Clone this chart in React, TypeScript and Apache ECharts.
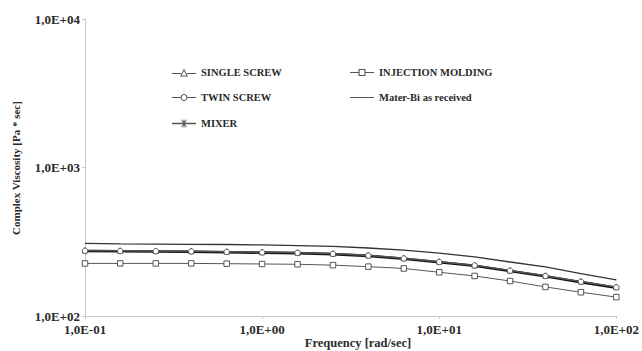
import React, { useEffect, useRef } from "react";
import * as echarts from "echarts";

const frequencies = [0.1, 0.158, 0.251, 0.398, 0.631, 1, 1.585, 2.512, 3.98, 6.31, 10, 15.85, 25.12, 39.8, 63.1, 100];
const singleScrew = [277, 276, 275, 274, 272, 270, 268, 264, 257, 246, 233, 220, 203, 187, 171, 157];
const twinScrew = [275, 274, 273, 272, 270, 268, 266, 262, 255, 244, 231, 219, 202, 186, 170, 156];
const mixer = [274, 273, 272, 271, 269, 267, 265, 261, 254, 243, 230, 218, 201, 185, 169, 155];
const injectionMolding = [226, 226, 226, 226, 225, 224, 223, 220, 215, 209, 197, 186, 172, 157, 144.5, 134];
const materBi = [308, 306, 305, 304, 303, 301, 298, 294, 287, 278, 265, 250, 231, 214, 193, 175];

const seriesNames = ["SINGLE SCREW", "INJECTION MOLDING", "TWIN SCREW", "Mater-Bi as received", "MIXER"];
const xTitle = "Frequency [rad/sec]";
const yTitle = "Complex Viscosity [Pa * sec]";

const fmt = (v: number) => {
  const e = Math.round(Math.log10(v));
  return "1,0E" + (e < 0 ? "-" : "+") + String(Math.abs(e)).padStart(2, "0");
};

const font = "Liberation Serif";

const lineIcon = "path://M0,4.5L24,4.5L24,5.5L0,5.5Z";
const starIcon =
  "path://M0,4.3L24,4.3L24,5.7L0,5.7Z M11.5,1L12.5,1L12.5,9L11.5,9Z M9.2,1.6L9.9,1L14.8,8.4L14.1,9Z M14.1,1L14.8,1.6L9.9,9L9.2,8.4Z";
const triIcon = "path://M0,6.5L9,6.5L9,7.5L0,7.5Z M15,6.5L24,6.5L24,7.5L15,7.5Z M12,2L16,10L8,10Z M12,4L9.6,9L14.4,9Z";
const circIcon =
  "path://M0,5.5L9,5.5L9,6.5L0,6.5Z M15,5.5L24,5.5L24,6.5L15,6.5Z M12,2.5A3.5,3.5,0,1,1,11.99,2.5Z M12,3.6A2.4,2.4,0,1,0,12.01,3.6Z";
const rectIcon = "path://M0,5.5L9,5.5L9,6.5L0,6.5Z M15,5.5L24,5.5L24,6.5L15,6.5Z M8.5,2.5L15.5,2.5L15.5,9.5L8.5,9.5Z M9.6,3.6L9.6,8.4L14.4,8.4L14.4,3.6Z";

export default function App() {
  const ref = useRef<HTMLDivElement>(null);
  useEffect(() => {
    if (!ref.current) return;
    const chart = echarts.init(ref.current, null, { renderer: "svg" });
    const pts = (arr: number[]) => frequencies.map((f, i) => [f, arr[i]]);
    const legendText = { fontFamily: font, fontWeight: "bold" as const, fontSize: 10.5, color: "#2a2a2a" };
    const mkLegend = (item: any, left: number, top: number) => ({
      data: [item],
      left,
      top,
      padding: 0,
      orient: "horizontal" as const,
      itemWidth: 24,
      itemHeight: 8,
      itemGap: 4,
      textStyle: legendText,
      selectedMode: false,
      itemStyle: { color: "#555", borderWidth: 0 },
      lineStyle: { width: 0 },
    });
    chart.setOption({
      animation: false,
      backgroundColor: "#fff",
      textStyle: { fontFamily: font },
      grid: { left: 85, right: 23, top: 19, bottom: 35, containLabel: false },
      legend: [
        mkLegend({ name: seriesNames[0], icon: triIcon }, 172, 67),
        mkLegend({ name: seriesNames[1], icon: rectIcon }, 350, 67),
        mkLegend({ name: seriesNames[2], icon: circIcon }, 172, 92),
        mkLegend({ name: seriesNames[3], icon: lineIcon }, 350, 92),
        mkLegend({ name: seriesNames[4], icon: starIcon }, 172, 118),
      ],
      graphic: [
        {
          type: "text",
          x: 358,
          y: 343,
          style: {
            text: xTitle,
            fontFamily: font,
            fontWeight: "bold",
            fontSize: 12.5,
            fill: "#2a2a2a",
            align: "center",
            verticalAlign: "middle",
          },
        },
        {
          type: "text",
          x: 16,
          y: 168,
          rotation: Math.PI / 2,
          style: {
            text: yTitle,
            fontFamily: font,
            fontWeight: "bold",
            fontSize: 11,
            fill: "#2a2a2a",
            align: "center",
            verticalAlign: "middle",
          },
        },
      ],
      xAxis: {
        type: "log",
        logBase: 10,
        min: 0.1,
        max: 100,
        axisLine: { lineStyle: { color: "#c8c8c8", width: 1 } },
        axisTick: { show: true, length: 3, lineStyle: { color: "#c8c8c8" } },
        splitLine: { show: false },
        minorTick: { show: false },
        axisLabel: { formatter: fmt, fontFamily: font, fontWeight: "bold", fontSize: 13, color: "#2a2a2a", margin: 7 },
      },
      yAxis: {
        type: "log",
        logBase: 10,
        min: 100,
        max: 10000,
        axisLine: { show: true, lineStyle: { color: "#c8c8c8", width: 1 } },
        axisTick: { show: true, length: 3, lineStyle: { color: "#c8c8c8" } },
        splitLine: { show: false },
        axisLabel: { formatter: fmt, fontFamily: font, fontWeight: "bold", fontSize: 13, color: "#2a2a2a", margin: 5 },
      },
      series: [
        {
          name: seriesNames[4],
          type: "line",
          data: pts(mixer),
          symbol: "none",
          lineStyle: { color: "#111", width: 2.6 },
          itemStyle: { color: "#222" },
          z: 3,
        },
        {
          name: seriesNames[0],
          type: "line",
          data: pts(singleScrew),
          symbol: "triangle",
          symbolSize: 5.5,
          lineStyle: { color: "#555", width: 1 },
          itemStyle: { color: "#fff", borderColor: "#555", borderWidth: 1 },
          z: 4,
        },
        {
          name: seriesNames[2],
          type: "line",
          data: pts(twinScrew),
          symbol: "circle",
          symbolSize: 5.5,
          lineStyle: { color: "#555", width: 1 },
          itemStyle: { color: "#fff", borderColor: "#555", borderWidth: 1 },
          z: 4,
        },
        {
          name: seriesNames[1],
          type: "line",
          data: pts(injectionMolding),
          symbol: "rect",
          symbolSize: 5.5,
          lineStyle: { color: "#555", width: 1 },
          itemStyle: { color: "#fff", borderColor: "#555", borderWidth: 1 },
          z: 4,
        },
        {
          name: seriesNames[3],
          type: "line",
          data: pts(materBi),
          symbol: "none",
          lineStyle: { color: "#333", width: 1.3 },
          itemStyle: { color: "#333" },
          z: 3,
        },
      ],
    });
    return () => chart.dispose();
  }, []);
  return (
    <div
      ref={ref}
      style={{ position: "fixed", left: 0, top: 0, width: 642, height: 351, background: "#fff" }}
    />
  );
}
